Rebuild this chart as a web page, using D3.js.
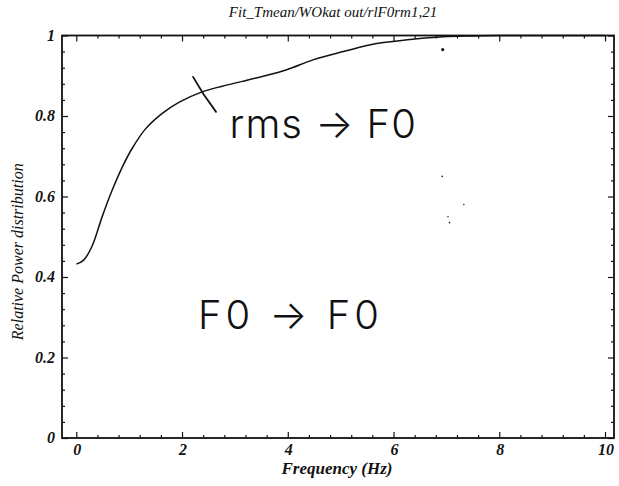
<!DOCTYPE html>
<html>
<head>
<meta charset="utf-8">
<script src="https://cdn.jsdelivr.net/npm/d3@7"></script>
<style>
  html, body { margin: 0; padding: 0; background: #fff; }
  svg { display: block; }
</style>
</head>
<body>
<script>
// Cumulative relative power vs. frequency
const freq  = [0, 0.14, 0.30, 0.49, 0.68, 0.87, 1.05, 1.31, 1.62, 1.94, 2.38, 2.76, 3.14, 3.48, 3.98, 4.49, 5.05, 5.68, 6.31, 6.94, 7.5, 8, 9, 10];
const power = [0.432, 0.442, 0.477, 0.550, 0.616, 0.673, 0.718, 0.768, 0.806, 0.834, 0.860, 0.874, 0.886, 0.897, 0.915, 0.940, 0.960, 0.980, 0.990, 0.997, 0.999, 1, 1, 1];

const xTicks = [0, 2, 4, 6, 8, 10];
const yTicks = [0, 0.2, 0.4, 0.6, 0.8, 1];
const yTickLabels = ["0", "0.2", "0.4", "0.6", "0.8", "1"];

const title = "Fit_Tmean/WOkat out/rlF0rm1,21";
const xTitle = "Frequency (Hz)";
const yTitle = "Relative Power distribution";

// pen notes written on the plot (anchored in data units)
const notes = [
  { text: "rms \u2192 F0", x: 2.9, y: 0.745 },
  { text: "F0 \u2192 F0", x: 2.3, y: 0.27 }
];
const noteSpacing = [1, 4];
const tickMark = { x: 2.36, y: 0.860 };
const specks = [
  { x: 6.93, y: 0.965, r: 1.6 },
  { x: 6.92, y: 0.65, r: 0.8 },
  { x: 7.33, y: 0.58, r: 0.7 },
  { x: 7.03, y: 0.55, r: 0.7 },
  { x: 7.06, y: 0.535, r: 0.8 }
];

const W = 619, H = 486;
const frame = { left: 62, right: 614, top: 35.5, bottom: 438 };

const svg = d3.select("body").append("svg").attr("width", W).attr("height", H);

const x = d3.scaleLinear().domain([-0.27, 10.17]).range([frame.left, frame.right]);
const y = d3.scaleLinear().domain([0, 1]).range([frame.bottom, frame.top]);

const serif = "'Liberation Serif', 'Times New Roman', serif";
const ink = "#111";

// frame
svg.append("rect")
  .attr("x", frame.left).attr("y", frame.top)
  .attr("width", frame.right - frame.left).attr("height", frame.bottom - frame.top)
  .attr("fill", "none").attr("stroke", ink).attr("stroke-width", 1.8);

// tick marks on all four sides, pointing inward
const xMinor = d3.range(0, 10.001, 0.4).filter(v => !xTicks.some(t => Math.abs(t - v) < 1e-6));
const yMinor = d3.range(0, 1.0001, 0.04).filter(v => !yTicks.some(t => Math.abs(t - v) < 1e-6));

function drawAxis(gen, transform, major, minor) {
  const gMajor = svg.append("g").attr("transform", transform)
    .call(gen.tickValues(major).tickSize(-6).tickFormat(""));
  const gMinor = svg.append("g").attr("transform", transform)
    .call(gen.tickValues(minor).tickSize(-3).tickFormat(""));
  [gMajor, gMinor].forEach(g => {
    g.select(".domain").remove();
    g.selectAll("line").attr("stroke", ink).attr("stroke-width", 1.2);
  });
}
drawAxis(d3.axisBottom(x), `translate(0,${frame.bottom})`, xTicks, xMinor);
drawAxis(d3.axisTop(x), `translate(0,${frame.top})`, xTicks, xMinor);
drawAxis(d3.axisLeft(y), `translate(${frame.left},0)`, yTicks, yMinor);
drawAxis(d3.axisRight(y), `translate(${frame.right},0)`, yTicks, yMinor);

// tick labels
svg.append("g").selectAll("text").data(xTicks).join("text")
  .attr("x", d => x(d) + 1).attr("y", frame.bottom + 17)
  .attr("text-anchor", "middle")
  .attr("font-family", serif).attr("font-style", "italic").attr("font-weight", "bold")
  .attr("font-size", 16).attr("fill", ink)
  .text(d => d);

svg.append("g").selectAll("text").data(yTicks).join("text")
  .attr("x", frame.left - 7).attr("y", d => y(d) + 5)
  .attr("text-anchor", "end")
  .attr("font-family", serif).attr("font-style", "italic").attr("font-weight", "bold")
  .attr("font-size", 16).attr("fill", ink)
  .text((d, i) => yTickLabels[i]);

// titles
svg.append("text")
  .attr("x", 333).attr("y", 17)
  .attr("text-anchor", "middle")
  .attr("font-family", serif).attr("font-style", "italic")
  .attr("font-size", 15).attr("fill", ink)
  .text(title);

svg.append("text")
  .attr("x", 337).attr("y", 474)
  .attr("text-anchor", "middle")
  .attr("font-family", serif).attr("font-style", "italic").attr("font-weight", "bold")
  .attr("font-size", 17).attr("fill", ink)
  .text(xTitle);

svg.append("text")
  .attr("transform", `translate(23,${(frame.top + frame.bottom) / 2 + 15}) rotate(-90)`)
  .attr("text-anchor", "middle")
  .attr("font-family", serif).attr("font-style", "italic")
  .attr("font-size", 16).attr("fill", ink)
  .text(yTitle);

// curve
const pts = freq.map((f, i) => [f, power[i]]);
svg.append("path")
  .datum(pts)
  .attr("fill", "none").attr("stroke", ink).attr("stroke-width", 1.5)
  .attr("d", d3.line().x(d => x(d[0])).y(d => y(d[1])).curve(d3.curveCatmullRom.alpha(0.5)));

// pen stroke across the curve
const tx = x(tickMark.x), ty = y(tickMark.y);
svg.append("path")
  .attr("d", `M${tx - 8},${ty - 15} Q${tx + 2},${ty + 3} ${tx + 15},${ty + 20}`)
  .attr("fill", "none").attr("stroke", ink).attr("stroke-width", 1.8).attr("stroke-linecap", "round");

// handwritten notes
svg.append("g").selectAll("text").data(notes).join("text")
  .attr("x", d => x(d.x)).attr("y", d => y(d.y))
  .attr("font-family", "Inter, 'DejaVu Sans', sans-serif").attr("font-weight", 300)
  .attr("font-size", 40).attr("letter-spacing", (d, i) => noteSpacing[i]).attr("fill", ink)
  .text(d => d.text);

// specks
svg.append("g").selectAll("circle").data(specks).join("circle")
  .attr("cx", d => x(d.x)).attr("cy", d => y(d.y)).attr("r", d => d.r).attr("fill", ink);
</script>
</body>
</html>
